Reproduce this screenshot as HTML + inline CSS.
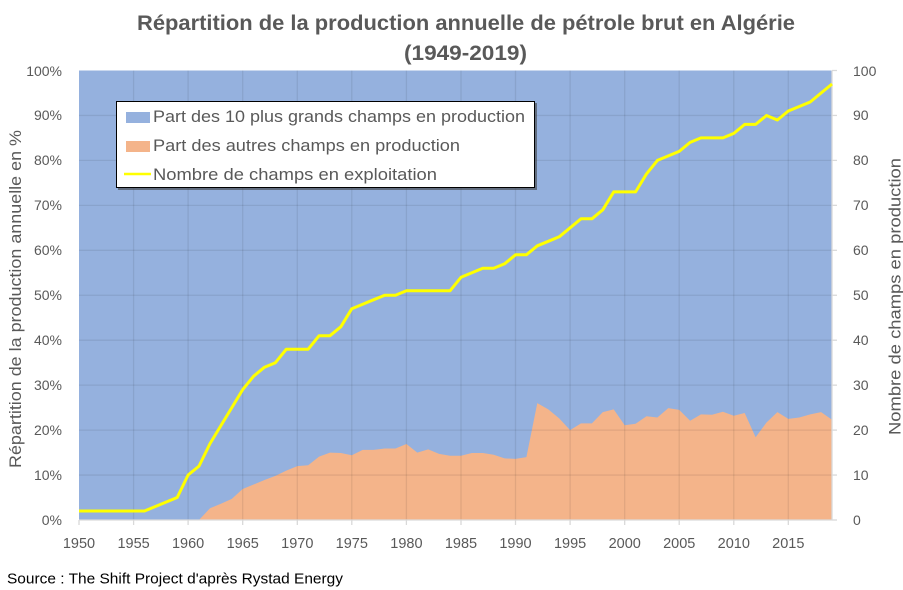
<!DOCTYPE html>
<html>
<head>
<meta charset="utf-8">
<style>
html,body{margin:0;padding:0;background:#fff;}
svg{display:block;}
text{font-family:"Liberation Sans",Arial,sans-serif;}
</style>
</head>
<body>
<svg width="903" height="590" viewBox="0 0 903 590" xmlns="http://www.w3.org/2000/svg">
<rect x="0" y="0" width="903" height="590" fill="#fff"/>

<!-- Title -->
<text x="137" y="30" font-size="21" font-weight="bold" fill="#595959" textLength="658" lengthAdjust="spacingAndGlyphs">Répartition de la production annuelle de pétrole brut en Algérie</text>
<text x="404" y="60" font-size="21" font-weight="bold" fill="#595959" textLength="123" lengthAdjust="spacingAndGlyphs">(1949-2019)</text>

<!-- Plot background (blue area) -->
<rect x="79" y="70.5" width="753" height="449.5" fill="#95b1de"/>

<!-- Orange area -->
<polygon fill="#f4b48a" points="79,520 199,520 210,508.3 220.9,503.8 231.8,498.9 242.7,489 253.6,484.5 264.5,480 275.4,475.9 286.3,470.6 297.3,466.1 308.2,465.2 319.1,456.6 330,452.6 340.9,453 351.8,455.3 362.7,449.9 373.7,449.9 384.6,448.5 395.5,448.5 406.4,444 417.3,452.6 428.2,449.4 439.1,453.9 450,455.7 461,455.7 471.9,453 482.8,453 493.7,454.8 504.6,458.4 515.5,458.9 526.4,457.1 537.3,403.1 548.3,409.4 559.2,418.4 570.1,430.1 581,423.4 591.9,423.4 602.8,412.1 613.7,409.4 624.7,425.2 635.6,423.8 646.5,416.2 657.4,417.5 668.3,408.1 679.2,409.9 690.1,420.7 701,414.4 712,414.8 722.9,411.7 733.8,415.7 744.7,413 755.6,437.3 766.5,422.5 777.4,412.1 788.3,418.9 799.3,417.5 810.2,414.4 821.1,412.1 832,419.8 832,520"/>

<!-- Gridlines -->
<g stroke="#000" stroke-opacity="0.08" stroke-width="1.3">
<line x1="79" y1="475.05" x2="832" y2="475.05"/>
<line x1="79" y1="430.1" x2="832" y2="430.1"/>
<line x1="79" y1="385.15" x2="832" y2="385.15"/>
<line x1="79" y1="340.2" x2="832" y2="340.2"/>
<line x1="79" y1="295.25" x2="832" y2="295.25"/>
<line x1="79" y1="250.3" x2="832" y2="250.3"/>
<line x1="79" y1="205.35" x2="832" y2="205.35"/>
<line x1="79" y1="160.4" x2="832" y2="160.4"/>
<line x1="79" y1="115.45" x2="832" y2="115.45"/>
<line x1="133.6" y1="70.5" x2="133.6" y2="520"/>
<line x1="188.1" y1="70.5" x2="188.1" y2="520"/>
<line x1="242.7" y1="70.5" x2="242.7" y2="520"/>
<line x1="297.3" y1="70.5" x2="297.3" y2="520"/>
<line x1="351.8" y1="70.5" x2="351.8" y2="520"/>
<line x1="406.4" y1="70.5" x2="406.4" y2="520"/>
<line x1="461" y1="70.5" x2="461" y2="520"/>
<line x1="515.5" y1="70.5" x2="515.5" y2="520"/>
<line x1="570.1" y1="70.5" x2="570.1" y2="520"/>
<line x1="624.7" y1="70.5" x2="624.7" y2="520"/>
<line x1="679.2" y1="70.5" x2="679.2" y2="520"/>
<line x1="733.8" y1="70.5" x2="733.8" y2="520"/>
<line x1="788.3" y1="70.5" x2="788.3" y2="520"/>
</g>

<!-- Axis lines & ticks -->
<g stroke="#d9d9d9" stroke-width="1.3">
<line x1="79" y1="520" x2="832" y2="520"/>
<line x1="79" y1="520" x2="79" y2="525"/>
<line x1="133.6" y1="520" x2="133.6" y2="525"/>
<line x1="188.1" y1="520" x2="188.1" y2="525"/>
<line x1="242.7" y1="520" x2="242.7" y2="525"/>
<line x1="297.3" y1="520" x2="297.3" y2="525"/>
<line x1="351.8" y1="520" x2="351.8" y2="525"/>
<line x1="406.4" y1="520" x2="406.4" y2="525"/>
<line x1="461" y1="520" x2="461" y2="525"/>
<line x1="515.5" y1="520" x2="515.5" y2="525"/>
<line x1="570.1" y1="520" x2="570.1" y2="525"/>
<line x1="624.7" y1="520" x2="624.7" y2="525"/>
<line x1="679.2" y1="520" x2="679.2" y2="525"/>
<line x1="733.8" y1="520" x2="733.8" y2="525"/>
<line x1="788.3" y1="520" x2="788.3" y2="525"/>
<line x1="832" y1="70.5" x2="832" y2="520"/>
<line x1="832" y1="520" x2="837" y2="520"/>
<line x1="832" y1="475.05" x2="837" y2="475.05"/>
<line x1="832" y1="430.1" x2="837" y2="430.1"/>
<line x1="832" y1="385.15" x2="837" y2="385.15"/>
<line x1="832" y1="340.2" x2="837" y2="340.2"/>
<line x1="832" y1="295.25" x2="837" y2="295.25"/>
<line x1="832" y1="250.3" x2="837" y2="250.3"/>
<line x1="832" y1="205.35" x2="837" y2="205.35"/>
<line x1="832" y1="160.4" x2="837" y2="160.4"/>
<line x1="832" y1="115.45" x2="837" y2="115.45"/>
<line x1="832" y1="70.5" x2="837" y2="70.5"/>
</g>

<!-- Yellow line -->
<polyline fill="none" stroke="#ffff00" stroke-width="3" stroke-linejoin="round" points="79,511 144.5,511 155.4,506.5 166.3,502 177.2,497.5 188.1,475 199,466.1 210,443.6 220.9,425.6 231.8,407.6 242.7,389.6 253.6,376.2 264.5,367.2 275.4,362.7 286.3,349.2 297.3,349.2 308.2,349.2 319.1,335.7 330,335.7 340.9,326.7 351.8,308.7 362.7,304.2 373.7,299.7 384.6,295.3 395.5,295.3 406.4,290.8 450,290.8 461,277.3 471.9,272.8 482.8,268.3 493.7,268.3 504.6,263.8 515.5,254.8 526.4,254.8 537.3,245.8 548.3,241.3 559.2,236.8 570.1,227.8 581,218.8 591.9,218.8 602.8,209.8 613.7,191.9 624.7,191.9 635.6,191.9 646.5,173.9 657.4,160.4 668.3,155.9 679.2,151.4 690.1,142.4 701,137.9 712,137.9 722.9,137.9 733.8,133.4 744.7,124.4 755.6,124.4 766.5,115.5 777.4,120 788.3,111 799.3,106.5 810.2,102 821.1,93 832,84"/>

<!-- Left tick labels -->
<g font-size="14" fill="#595959" text-anchor="end">
<text x="62" y="525">0%</text>
<text x="62" y="480">10%</text>
<text x="62" y="435">20%</text>
<text x="62" y="390">30%</text>
<text x="62" y="345">40%</text>
<text x="62" y="300">50%</text>
<text x="62" y="255">60%</text>
<text x="62" y="210">70%</text>
<text x="62" y="165">80%</text>
<text x="62" y="120">90%</text>
<text x="62" y="76">100%</text>
</g>

<!-- Right tick labels -->
<g font-size="14" fill="#595959" text-anchor="start">
<text x="853" y="525">0</text>
<text x="853" y="480">10</text>
<text x="853" y="435">20</text>
<text x="853" y="390">30</text>
<text x="853" y="345">40</text>
<text x="853" y="300">50</text>
<text x="853" y="255">60</text>
<text x="853" y="210">70</text>
<text x="853" y="165">80</text>
<text x="853" y="120">90</text>
<text x="853" y="76">100</text>
</g>

<!-- X tick labels -->
<g font-size="14.5" fill="#595959" text-anchor="middle">
<text x="79" y="548">1950</text>
<text x="133.6" y="548">1955</text>
<text x="188.1" y="548">1960</text>
<text x="242.7" y="548">1965</text>
<text x="297.3" y="548">1970</text>
<text x="351.8" y="548">1975</text>
<text x="406.4" y="548">1980</text>
<text x="461" y="548">1985</text>
<text x="515.5" y="548">1990</text>
<text x="570.1" y="548">1995</text>
<text x="624.7" y="548">2000</text>
<text x="679.2" y="548">2005</text>
<text x="733.8" y="548">2010</text>
<text x="788.3" y="548">2015</text>
</g>

<!-- Axis titles -->
<text transform="translate(21,468) rotate(-90)" font-size="17" fill="#595959" textLength="338" lengthAdjust="spacingAndGlyphs">Répartition de la production annuelle en %</text>
<text transform="translate(900.5,435) rotate(-90)" font-size="17" fill="#595959" textLength="277" lengthAdjust="spacingAndGlyphs">Nombre de champs en production</text>

<!-- Legend -->
<rect x="118" y="103" width="419" height="87" fill="#404040" opacity="0.6"/>
<rect x="116.5" y="101.5" width="418" height="86" fill="#fff" stroke="#000" stroke-width="1"/>
<rect x="126" y="112" width="24" height="11" fill="#95b1de"/>
<rect x="126" y="141" width="24" height="11" fill="#f4b48a"/>
<line x1="124" y1="174" x2="151" y2="174" stroke="#ffff00" stroke-width="2.5"/>
<g font-size="17" fill="#595959">
<text x="153" y="122" textLength="372" lengthAdjust="spacingAndGlyphs">Part des 10 plus grands champs en production</text>
<text x="153" y="151" textLength="307" lengthAdjust="spacingAndGlyphs">Part des autres champs en production</text>
<text x="153" y="180" textLength="284" lengthAdjust="spacingAndGlyphs">Nombre de champs en exploitation</text>
</g>

<!-- Source -->
<text x="7" y="583.5" font-size="15" fill="#000" textLength="336" lengthAdjust="spacingAndGlyphs">Source : The Shift Project d'après Rystad Energy</text>
</svg>
</body>
</html>
